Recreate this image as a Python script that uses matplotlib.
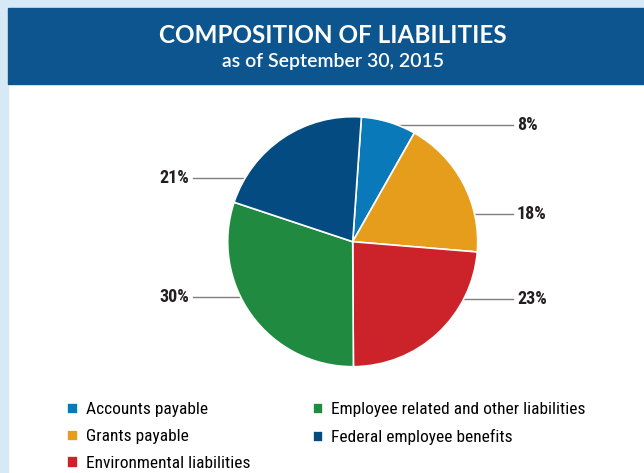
import matplotlib.pyplot as plt
from matplotlib.patches import Rectangle

# --- data ---
categories = ['Accounts payable', 'Grants payable', 'Environmental liabilities',
              'Employee related and other liabilities', 'Federal employee benefits']
shares = [7.1, 18.1, 23.6, 30.2, 21.0]
pct_labels = ['8%', '18%', '23%', '30%', '21%']
colors = ['#0a79b9', '#e59d1b', '#cc2229', '#218a41', '#044b82']

# label layout (pixel y of each callout, side)
label_y = [125, 214, 299, 297, 178]
label_side = ['r', 'r', 'r', 'l', 'l']

W, H = 644, 473
def Y(py):
    return H - py

COND = 'Roboto Condensed'

fig = plt.figure(figsize=(W / 100, H / 100), dpi=100)
ax = fig.add_axes([0, 0, 1, 1])

# background framing
ax.add_patch(Rectangle((0, 0), 8, H, color='#d7e9f6', zorder=0))
ax.add_patch(Rectangle((0, Y(8)), W, 8, color='#d7e9f6', zorder=0))
ax.add_patch(Rectangle((8, Y(84)), W - 8, 76, color='#0c558f', zorder=1))
ax.text(333, Y(35.5), 'COMPOSITION OF LIABILITIES', color='white', fontsize=17.5,
        fontweight='bold', family='Lato', ha='center', va='center')
ax.text(333, Y(62), 'as of September 30, 2015', color='white', fontsize=14,
        fontweight='semibold', family='Lato', ha='center', va='center')

cx, cy, r = 352.7, Y(241.7), 125
wedges, _ = ax.pie(shares, colors=colors, startangle=86, counterclock=False,
                   center=(cx, cy), radius=r,
                   wedgeprops=dict(edgecolor='white', linewidth=1.2))

# callouts
for lab, py, side in zip(pct_labels, label_y, label_side):
    dy = cy - Y(py)
    dx = (r ** 2 - dy ** 2) ** 0.5
    if side == 'r':
        x0, x1 = cx + dx, 513
        ax.text(517, Y(py), lab, ha='left', va='center', fontsize=13,
                fontweight='bold', family=COND, color='#231f20')
    else:
        x0, x1 = cx - dx, 193
        ax.text(189, Y(py), lab, ha='right', va='center', fontsize=13,
                fontweight='bold', family=COND, color='#231f20')
    ax.plot([x0, x1], [Y(py), Y(py)], color='#7f7f7f', lw=1, zorder=0.5)

ax.legend(wedges, categories, ncol=2, frameon=False, loc='upper left',
          bbox_to_anchor=(60 / W, (H - 395.5) / H),
          prop={'family': COND, 'size': 12.5},
          handlelength=0.62, handleheight=0.62, handletextpad=0.45,
          labelspacing=0.68, columnspacing=3.6, borderaxespad=0)

ax.set_xlim(0, W)
ax.set_ylim(0, H)
ax.set_aspect('auto')
ax.axis('off')

fig.savefig('out.png', dpi=100)
